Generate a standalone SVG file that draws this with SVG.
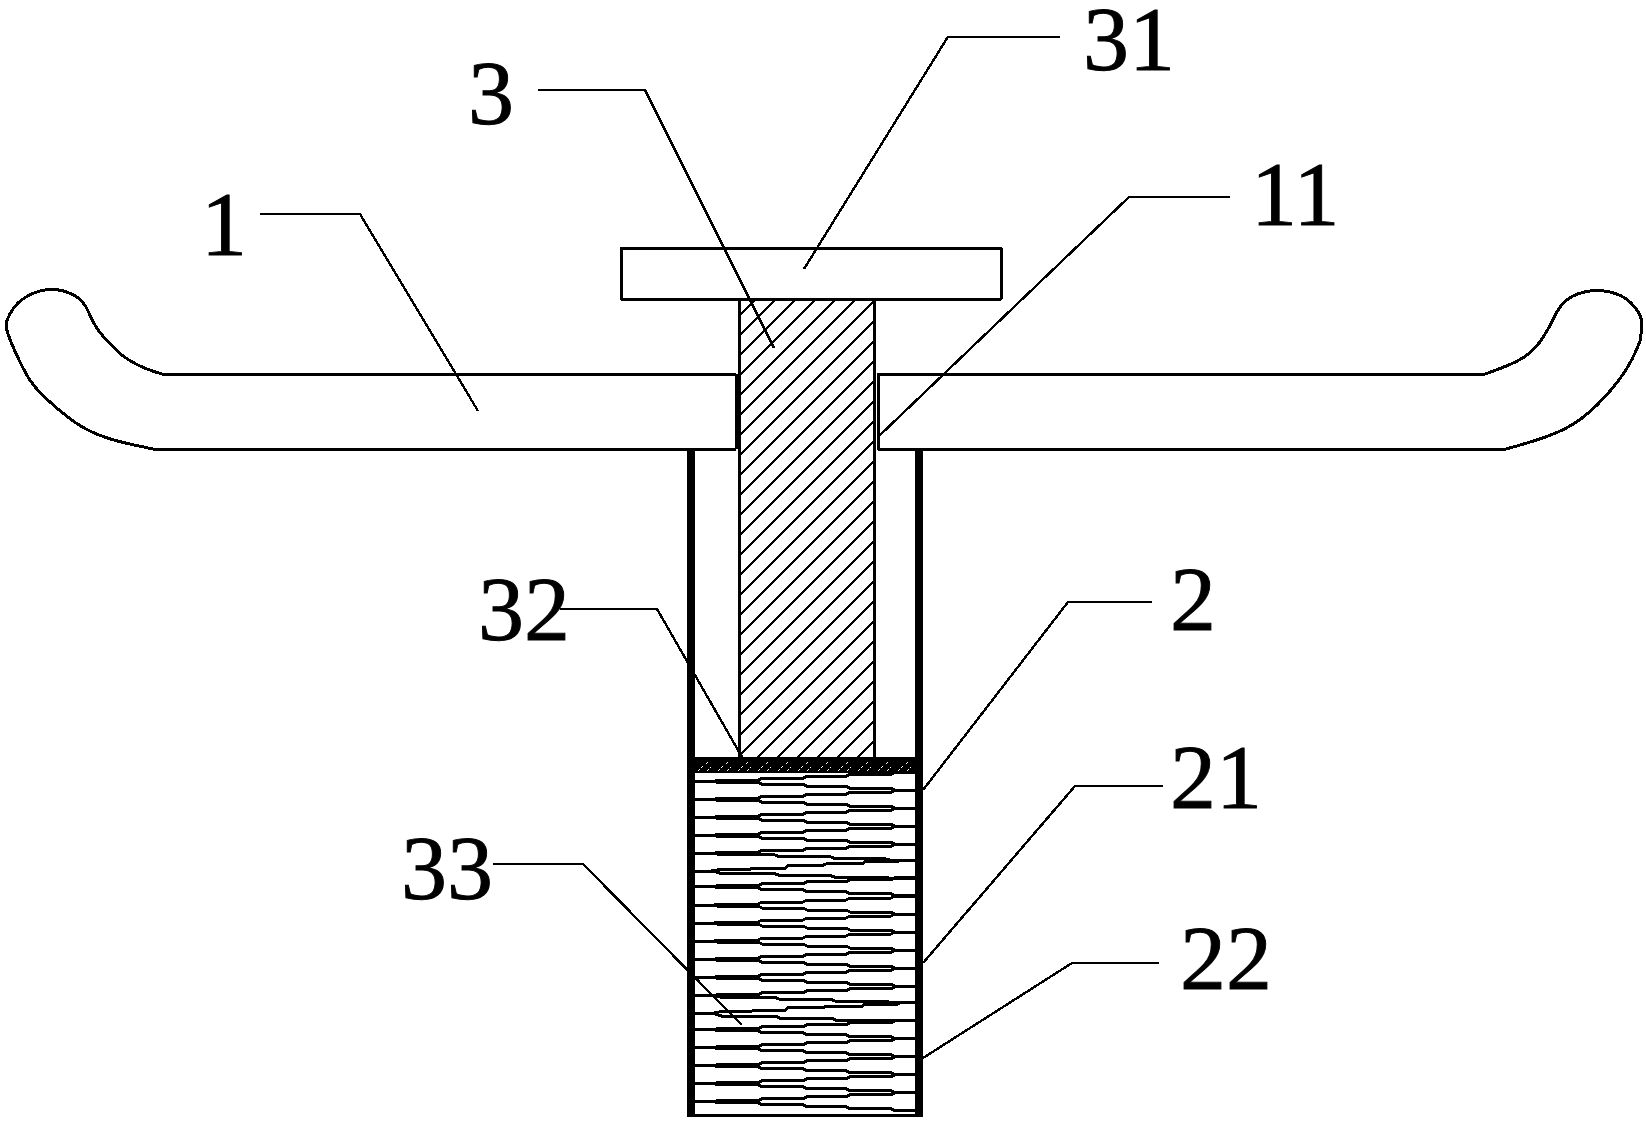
<svg xmlns="http://www.w3.org/2000/svg" width="1646" height="1124" viewBox="0 0 1646 1124">
<style>
path,rect{shape-rendering:crispEdges}
.o{fill:none;stroke:#000;stroke-width:3;stroke-linejoin:round}
.l{fill:none;stroke:#000;stroke-width:2.400;stroke-linejoin:round}
.s{fill:none;stroke:#000;stroke-width:3}
.w{fill:#000}
text{font-family:"Liberation Serif","Times New Roman",serif;font-size:92px;fill:#000;stroke:#000;stroke-width:.9}
</style>
<defs>
<pattern id="hatch" width="20" height="20" patternUnits="userSpaceOnUse"><path d="M-1 16L16 -1M14 21L21 14" stroke="#000" stroke-width="2.400" fill="none"/></pattern>
<pattern id="speck" width="20" height="16" x="695" y="757" patternUnits="userSpaceOnUse"><path d="M3 14L9 8M11 7L14 4M12 14L16 10" stroke="#fff" stroke-width="1.200" fill="none" stroke-dasharray="3 1"/></pattern>
<path id="dn" class="s" d="M695 0H714L717 1H758L762 3H803L807 5H846L850 7H891L895 9H915"/>
<path id="up" class="s" d="M695 0H714L717 -1H758L762 -3H803L807 -5H846L850 -7H891L895 -9H915"/>
<path id="dn7" class="s" d="M695 0H714L722 1.700H775L780 3.700H831L836 5.700H886L891 7H915"/>
<path id="dn7b" class="s" d="M695 0H714L722 2.400H775L780 4.400H831L836 6.400H886L891 7H915"/>
<path id="up11" class="s" d="M695 0H710L722 -2.200H750L753 -3H785L788 -6H823L826 -7.300H862L865 -9.600H897L900 -11H915"/>
</defs>
<rect width="1646" height="1124" fill="#fff"/>

<g id="handle-left"><path class="o" d="M736 374H162Q145 369 135 363.500Q125 358 119.500 353Q114 348 106.500 340Q99 332 95.500 326Q92 320 89 313Q86 306 82 301.500Q78 297 70.500 293.500Q63 290 55.500 289.500Q48 289 40 291Q31.500 293 25 297.500Q18 302 14 307.500Q10 313 7.500 319Q5 325 7.500 332.500Q10 340 16 353.500Q22 367 28 377Q34 387 45 397.500Q56 408 69 418Q82 428 96.500 434Q111 440 132 444.500L153 449H736"/><path class="w" d="M734.500 374h3.500v75h-3.500z"/></g>
<g id="handle-right"><path class="o" d="M878 374H1485Q1517 363 1527 355Q1537 347 1543 337.500Q1549 328 1554 317.500Q1559 307 1565.500 301Q1572 295 1584.500 292Q1597 289 1610 292Q1623 295 1630.500 302.500Q1638 310 1640.500 316.500Q1643 323 1640 341Q1633 360 1622.500 375Q1612 390 1597 405Q1582 420 1564.500 429Q1547 438 1506 449H878Z"/></g>
<g id="cap"><rect class="o" x="621" y="248" width="380" height="51"/></g>
<g id="shaft"><rect x="739" y="299" width="135" height="458" fill="url(#hatch)"/><path class="o" d="M739 299V757M874 299V757"/></g>
<g id="tube"><rect class="w" x="687" y="449" width="8" height="668"/><rect class="w" x="915" y="449" width="8" height="668"/><rect class="w" x="687" y="1113.500" width="236" height="3.500"/></g>
<g id="band"><rect class="w" x="695" y="757" width="220" height="16"/><rect x="695" y="757" width="220" height="16" fill="url(#speck)"/></g>
<g id="spring">
<use href="#up" y="781.300"/><use href="#dn" y="781.300"/>
<use href="#up" y="799.300"/><use href="#dn" y="799.300"/>
<use href="#up" y="817.300"/><use href="#dn" y="817.300"/>
<use href="#up" y="835.300"/><use href="#dn" y="835.300"/>
<use href="#up" y="853.300"/><use href="#dn7" y="853.300"/>
<use href="#up11" y="871.300"/><use href="#dn7b" y="871.300"/>
<use href="#up" y="886.700"/><use href="#dn" y="886.700"/>
<use href="#up" y="905"/><use href="#dn" y="905"/>
<use href="#up" y="923"/><use href="#dn" y="923"/>
<use href="#up" y="941"/><use href="#dn" y="941"/>
<use href="#up" y="959.300"/><use href="#dn" y="959.300"/>
<use href="#up" y="977.300"/><use href="#dn" y="977.300"/>
<use href="#up" y="995.700"/><use href="#dn7" y="995.700"/>
<use href="#up11" y="1013.700"/><use href="#dn7b" y="1013.700"/>
<use href="#up" y="1029.700"/><use href="#dn" y="1029.700"/>
<use href="#up" y="1047.700"/><use href="#dn" y="1047.700"/>
<use href="#up" y="1065.700"/><use href="#dn" y="1065.700"/>
<use href="#up" y="1083.700"/><use href="#dn" y="1083.700"/>
<use href="#up" y="1101.700"/><use href="#dn" y="1101.700"/>
</g>
<g id="connectors">
<path class="l" d="M260 214H360L478 411"/>
<path class="l" d="M538 90H645L774 348"/>
<path class="l" d="M1059.500 36.700H948L804 269"/>
<path class="l" d="M1230 197H1129L878 437"/>
<path class="l" d="M560 609H657L742 757"/>
<path class="l" d="M1152 602H1068L923 790"/>
<path class="l" d="M1163 786H1075L923 963"/>
<path class="l" d="M1159 963H1072L923 1058"/>
<path class="l" d="M493 864H583L741.700 1025"/>
</g>
<g id="labels">
<text x="201" y="255">1</text>
<text x="468" y="124">3</text>
<text x="1083" y="70">31</text>
<text x="1251" y="225">11</text>
<text x="478" y="640">32</text>
<text x="1170" y="630">2</text>
<text x="1170" y="808">21</text>
<text x="1180" y="989">22</text>
<text x="401" y="899">33</text>
</g>
</svg>
